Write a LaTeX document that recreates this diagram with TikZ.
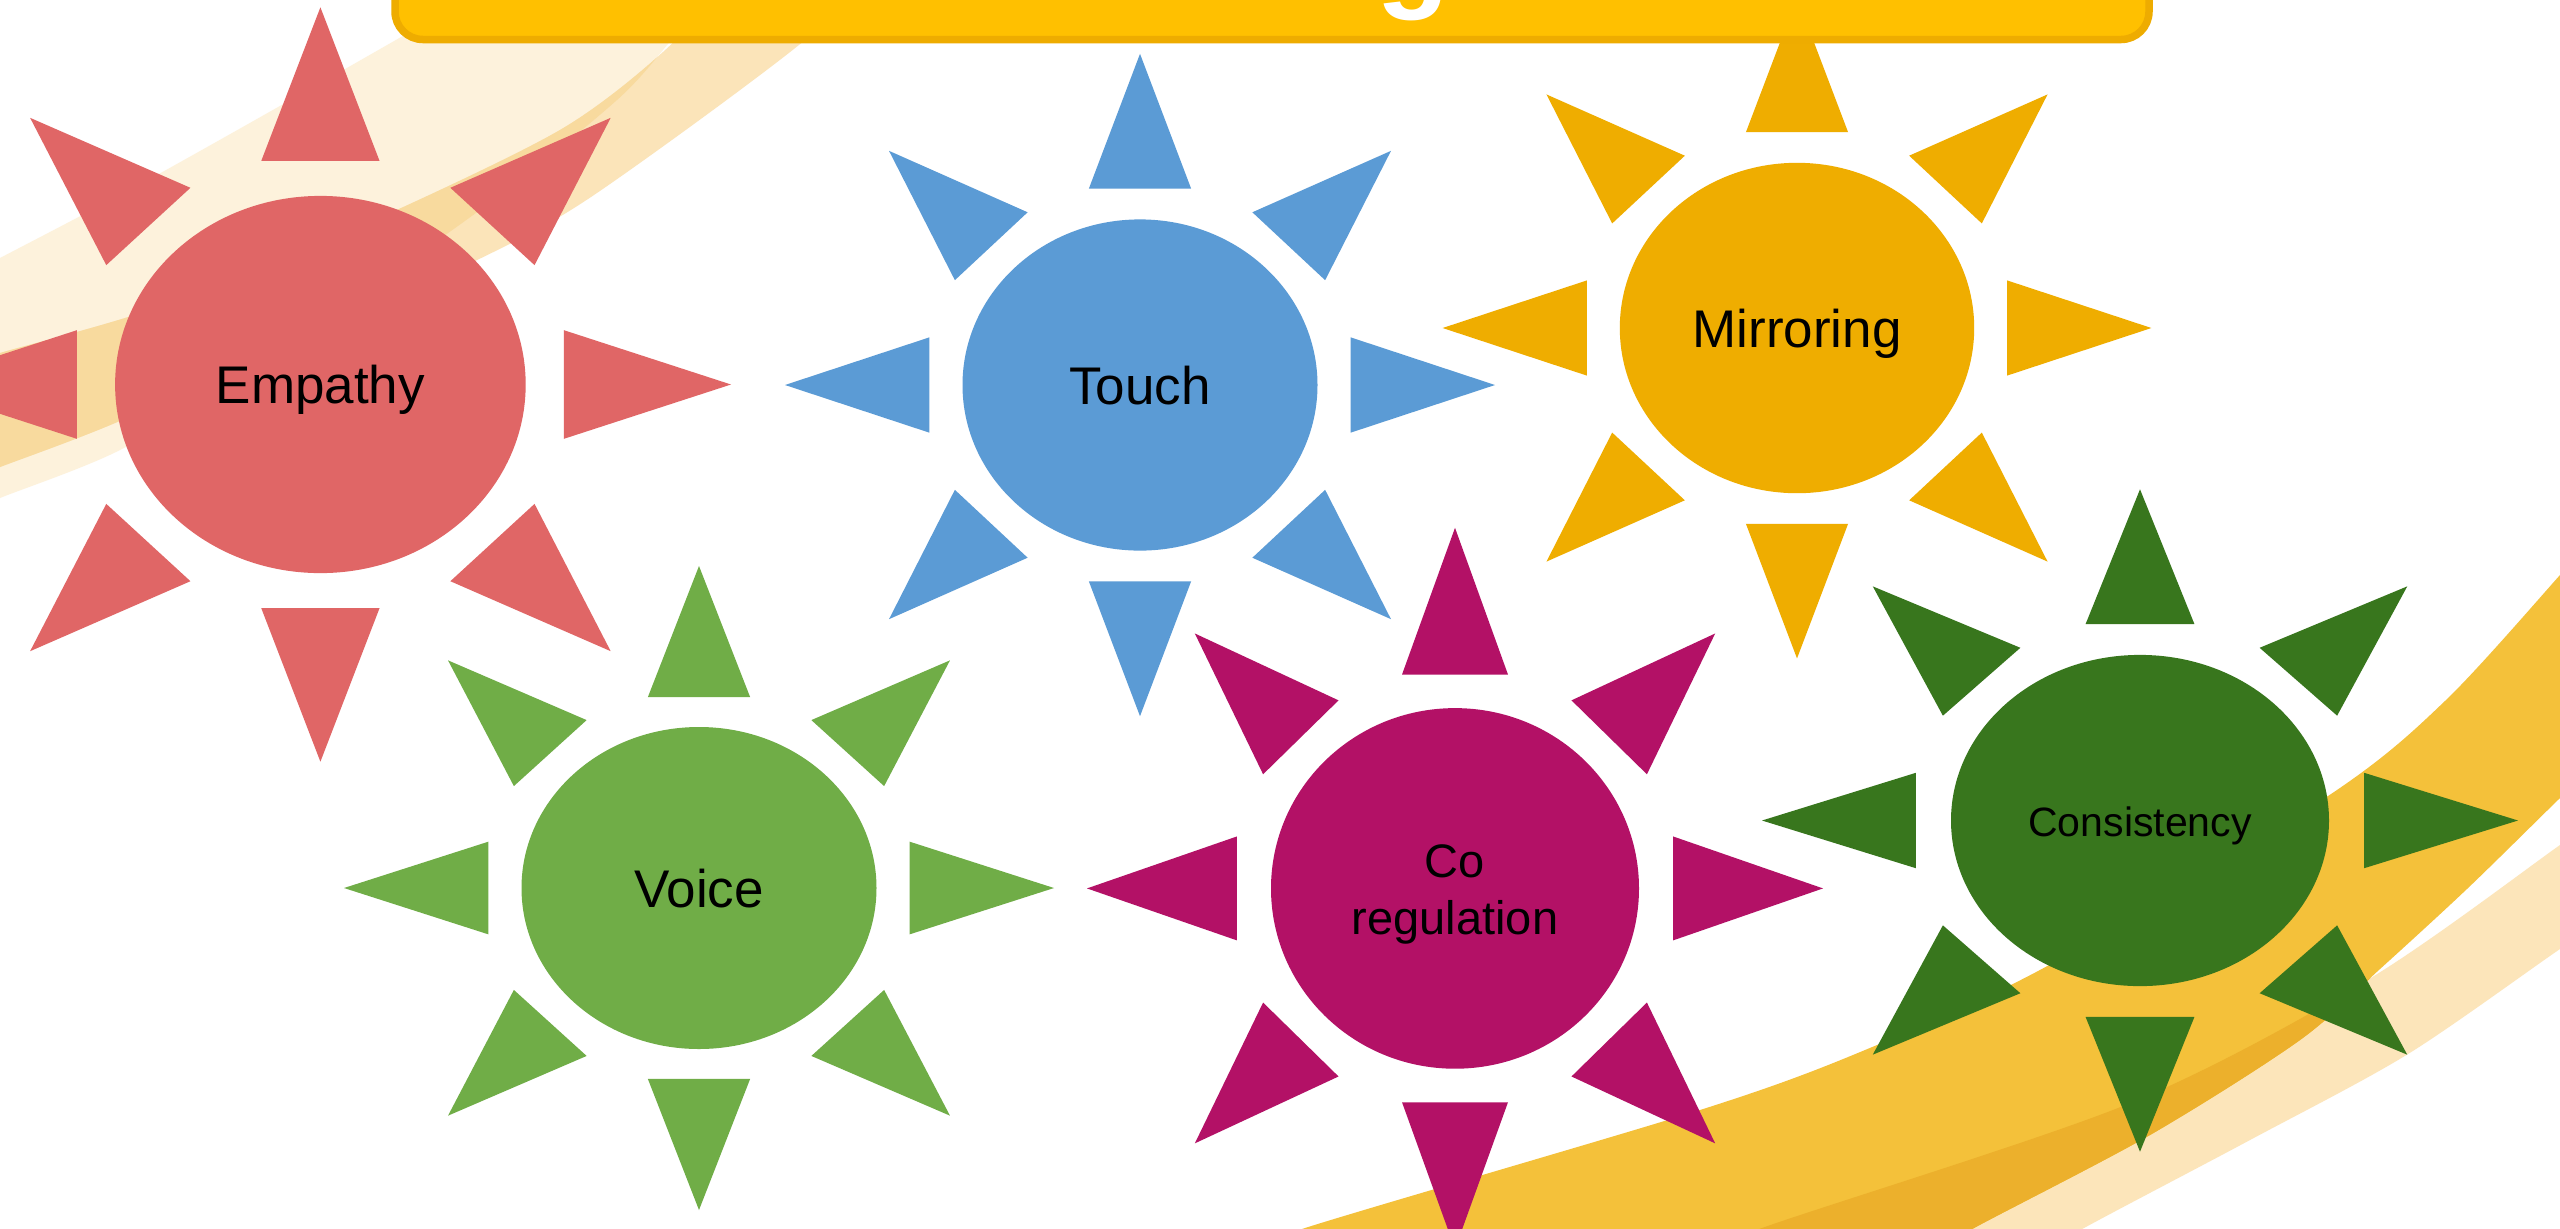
\documentclass[tikz,border=0pt]{standalone}
\usepackage{fontspec}
\setmainfont{Liberation Sans}
\usetikzlibrary{shapes.geometric}

\definecolor{cEmp}{HTML}{E06666}
\definecolor{cTou}{HTML}{5B9BD5}
\definecolor{cMir}{HTML}{EFAD00}
\definecolor{cVoi}{HTML}{70AD47}
\definecolor{cCor}{HTML}{B31166}
\definecolor{cCon}{HTML}{38761D}
\definecolor{bannerFill}{HTML}{FFC000}
\definecolor{bannerEdge}{HTML}{EEAC00}
\definecolor{ulPale}{HTML}{FDF2DC}
\definecolor{ulMid}{HTML}{FBE4B9}
\definecolor{ulDark}{HTML}{F8DA9E}
\definecolor{lrGold}{HTML}{F4C13A}
\definecolor{lrPale}{HTML}{FCE5BA}
\definecolor{lrDark}{HTML}{ECB02C}

\tikzset{
  sunbody/.style={ellipse, inner sep=0pt, outer sep=0pt, draw=none},
  suntext/.style={anchor=base, inner sep=0pt, text=black, font=\fontsize{26.5}{32}\selectfont},
  bandA/.style={insert path={plot[smooth] coordinates {(-20,268) (0,258) (157,175) (408,33) (473,-8) (490,-20)}
      -- plot[smooth] coordinates {(730,-20) (718,-8) (675,36) (617,100) (480,210) (250,370) (120,450) (0,498) (-20,508)} -- cycle}},
  bandB/.style={insert path={plot[smooth] coordinates {(712,-20) (700,-8) (680,36) (560,130) (330,240) (150,310) (0,353) (-20,360)}
      -- plot[smooth] coordinates {(-20,475) (0,467) (115,423) (300,340) (471,263) (591,197) (805,40) (850,-20)} -- cycle}},
  bandGold/.style={insert path={plot[smooth] coordinates {(1280,1245) (1305,1228) (1700,1110) (1865,1050) (2051,964) (2331,794) (2446,700) (2560,575) (2585,545)}
      -- plot[smooth] coordinates {(2585,775) (2560,798) (2468,888) (2380,969) (2300,1040) (2150,1135) (1974,1228) (1950,1245)} -- cycle}},
  bandPale/.style={insert path={plot[smooth] coordinates {(1740,1245) (1762,1228) (2128,1104) (2369,979) (2560,845) (2585,828)}
      -- plot[smooth] coordinates {(2585,935) (2560,949) (2408,1054) (2250,1140) (2084,1228) (2060,1245)} -- cycle}}
}

% rays of a sun: centre x, centre y, x radius, y radius, colour
\newcommand\sunrays[5]{%
  \begin{scope}[shift={(#1,#2)}, xscale=#3, yscale=#4]
    \foreach \s in {1,-1}{
      \fill[#5] (2*\s,0) -- (1.186*\s,0.288) -- (1.186*\s,-0.288) -- cycle;
      \fill[#5] (0,2*\s) -- (0.288,1.186*\s) -- (-0.288,1.186*\s) -- cycle;
      \foreach \t in {1,-1}{
        \fill[#5] (1.414*\s,1.414*\t) -- (0.633*\s,1.043*\t) -- (1.043*\s,0.633*\t) -- cycle;
      }
    }
  \end{scope}
}
% whole sun: name, cx, cy, rx, ry, colour
\newcommand\sunfig[6]{%
  \sunrays{#2}{#3}{#4}{#5}{#6}
  \node[sunbody, fill=#6, minimum width=#4pt, minimum height=#5pt] (#1) at (#2,#3) {};
}

\begin{document}
\begin{tikzpicture}[x=0.5pt, y=-0.5pt]
\useasboundingbox (0,0) rectangle (2560,1228);
\fill[white] (0,0) rectangle (2560,1228);

% background swooshes, upper left
\fill[ulPale, bandA];
\fill[ulMid, bandB];
\begin{scope}
  \path[clip, bandA];
  \fill[ulDark, bandB];
\end{scope}

% background swooshes, lower right
\fill[lrPale, bandPale];
\fill[lrGold, bandGold];
\begin{scope}
  \path[clip, bandPale];
  \fill[lrDark, bandGold];
\end{scope}

% suns
\sunfig{empathy}{320.4}{384.5}{205.3}{188.6}{cEmp}
\sunfig{touch}{1140}{385}{177.5}{165.6}{cTou}
\sunfig{mirroring}{1797}{328}{177.2}{165.2}{cMir}
\sunfig{voice}{699}{888}{177.5}{161}{cVoi}
\sunfig{coreg}{1455}{888.4}{184}{180.3}{cCor}
\sunfig{consistency}{2140}{820.5}{189}{165.6}{cCon}

% labels
\node[suntext] (empathy-label) at (320.4,403.5) {Empathy};
\node[suntext] (touch-label) at (1140,404.3) {Touch};
\node[suntext] (mirroring-label) at (1797,347.3) {Mirroring};
\node[suntext] (voice-label) at (699,907.7) {Voice};
\node[inner sep=0pt, align=center, text=black, font=\fontsize{23.5}{28.5}\selectfont] (coreg-label) at (1455,894) {Co\\regulation};
\node[suntext, font=\fontsize{20.5}{24.6}\selectfont] (consistency-label) at (2140,836) {Consistency};

% title banner
\node[draw=bannerEdge, fill=bannerFill, line width=3.75pt, rounded corners=14pt,
      minimum width=877pt, minimum height=49.75pt, inner sep=0pt] (banner) at (1272,-10.25) {};
\node[anchor=base, inner sep=0pt, text=white, font=\bfseries\fontsize{60}{72}\selectfont] (title) at (1413,-5) {g};
\end{tikzpicture}
\end{document}
